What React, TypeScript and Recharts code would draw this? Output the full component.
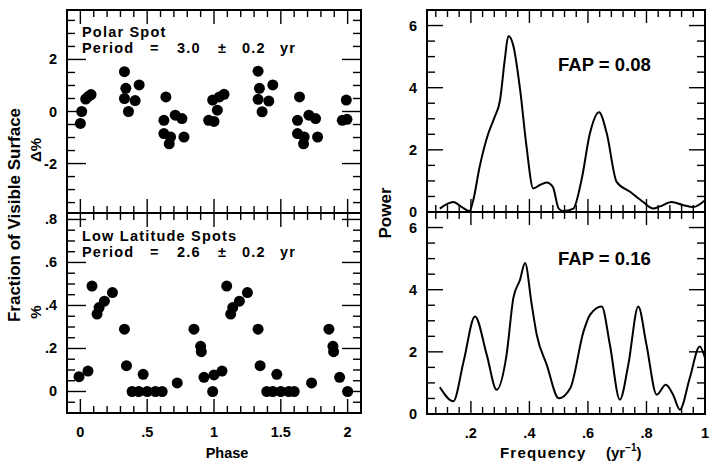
import React from 'react';
import { ScatterChart, Scatter, LineChart, Line, XAxis, YAxis, ReferenceArea } from 'recharts';

// ---------- data ----------
const polarPhase = [0.0, 0.01, 0.04, 0.06, 0.08, 0.33, 0.34, 0.44, 0.33, 0.41, 0.36, 0.64, 0.625, 0.71, 0.76, 0.625, 0.675, 0.665, 0.775,
  0.96, 1.0, 1.025, 0.99, 1.04, 1.075, 1.33, 1.34, 1.44, 1.33, 1.41, 1.36, 1.64, 1.625, 1.71, 1.76, 1.625, 1.675, 1.67, 1.775, 1.99, 1.96, 1.995];
const polarDelta = [-0.46, 0.0, 0.48, 0.58, 0.65, 1.53, 0.89, 1.02, 0.5, 0.42, 0.0, 0.56, -0.34, -0.14, -0.27, -0.85, -0.98, -1.24, -0.98,
  -0.34, -0.38, 0.05, 0.44, 0.56, 0.66, 1.55, 0.89, 1.02, 0.47, 0.4, -0.01, 0.56, -0.34, -0.14, -0.27, -0.85, -0.98, -1.24, -0.98, 0.44, -0.34, -0.3];

const lowPhase = [-0.01, 0.057, 0.087, 0.125, 0.14, 0.18, 0.24, 0.33, 0.345, 0.47, 0.387, 0.437, 0.5, 0.562, 0.612, 0.725, 0.85, 0.9, 0.905, 0.925,
  0.99, 1.0, 1.06, 1.095, 1.125, 1.14, 1.19, 1.25, 1.33, 1.345, 1.47, 1.395, 1.44, 1.5, 1.56, 1.6, 1.73, 1.86, 1.89, 1.895, 1.94, 2.0];
const lowFraction = [0.069, 0.095, 0.49, 0.36, 0.39, 0.42, 0.46, 0.29, 0.12, 0.08, 0.0, 0.0, 0.0, 0.0, 0.0, 0.04, 0.29, 0.21, 0.185, 0.066,
  0.0, 0.077, 0.095, 0.49, 0.36, 0.39, 0.42, 0.46, 0.29, 0.12, 0.08, 0.0, 0.0, 0.0, 0.0, 0.0, 0.04, 0.29, 0.21, 0.185, 0.066, 0.0];

const polarFreq = [0.094, 0.14, 0.169, 0.195, 0.208, 0.23, 0.26, 0.28, 0.3, 0.316, 0.328, 0.345, 0.368, 0.39, 0.413, 0.436, 0.459, 0.48, 0.5, 0.516,
  0.55, 0.578, 0.607, 0.638, 0.664, 0.698, 0.744, 0.789, 0.823, 0.846, 0.886, 0.926, 0.96, 1.0];
const polarPower = [0.11, 0.32, 0.16, 0.03, 0.38, 1.46, 2.54, 3.03, 3.62, 4.92, 5.66, 5.35, 3.95, 2.11, 0.76, 0.87, 0.95, 0.81, 0.11, 0.03,
  0.11, 1.03, 2.54, 3.21, 2.54, 0.97, 0.65, 0.32, 0.11, 0.18, 0.32, 0.22, 0.16, 0.38];

const lowFreq = [0.094, 0.14, 0.175, 0.214, 0.254, 0.288, 0.322, 0.345, 0.368, 0.385, 0.408, 0.425, 0.459, 0.5, 0.54, 0.585, 0.607, 0.647, 0.675,
  0.709, 0.738, 0.772, 0.8, 0.835, 0.866, 0.891, 0.914, 0.948, 0.982, 1.0];
const lowPower = [0.86, 0.41, 1.69, 3.14, 1.91, 0.78, 1.91, 3.73, 4.32, 4.86, 3.51, 2.55, 1.59, 0.51, 0.84, 2.66, 3.19, 3.46, 2.23,
  0.46, 1.59, 3.46, 2.23, 0.62, 0.94, 0.62, 0.14, 1.16, 2.17, 1.8];

// ---------- ticks ----------
const phaseMajor = [0, 0.5, 1, 1.5, 2];
const phaseLabels = ['0', '.5', '1', '1.5', '2'];
const deltaMajor = [-2, 0, 2];
const deltaLabels = ['-2', '0', '2'];
const fracMajor = [0, 0.2, 0.4, 0.6, 0.8];
const fracLabels = ['0', '.2', '.4', '.6', '.8'];
const freqMajor = [0.2, 0.4, 0.6, 0.8, 1.0];
const freqLabels = ['.2', '.4', '.6', '.8', '1'];
const powerMajor = [0, 2, 4, 6];
const powerLabels = ['0', '2', '4', '6'];

const steps = (a: number, b: number, s: number) => {
  const out: number[] = [];
  const n = Math.round((b - a) / s);
  for (let i = 0; i <= n; i++) out.push(+(a + i * s).toFixed(4));
  return out;
};
const phaseTicks = steps(0, 2, 0.1);
const deltaTicks = steps(-3.5, 3.5, 0.5);
const fracTicks = steps(-0.05, 0.8, 0.05);
const freqTicks = steps(0.08, 1.0, 0.04);
const powerTicks = steps(0, 6.5, 0.5);

const FONT = '"Liberation Sans", Arial, Helvetica, sans-serif';
const W = 712;
const H = 466;

const isMajor = (majors: number[], v: number) => majors.findIndex((m) => Math.abs(m - v) < 1e-6);

const makeXTick = (majors: number[], labels: string[], plotH: number, showLabels: boolean, majorLen: number, minorLen: number) =>
  (props: any) => {
    const { x, y, payload } = props;
    const idx = isMajor(majors, payload.value);
    const len = idx >= 0 ? majorLen : minorLen;
    return (
      <g>
        <line x1={x} y1={y} x2={x} y2={y - len} stroke="#000" strokeWidth={1.4} />
        <line x1={x} y1={y - plotH} x2={x} y2={y - plotH + len} stroke="#000" strokeWidth={1.4} />
        {showLabels && idx >= 0 ? (
          <text x={x} y={y + 24} textAnchor="middle" fontFamily={FONT} fontWeight="bold" fontSize={14.5} fill="#000">
            {labels[idx]}
          </text>
        ) : null}
      </g>
    );
  };

const makeYTick = (majors: number[], labels: string[], plotW: number, majorLen: number, minorLen: number, labelGap: number) =>
  (props: any) => {
    const { x, y, payload } = props;
    const idx = isMajor(majors, payload.value);
    const len = idx >= 0 ? majorLen : minorLen;
    return (
      <g>
        <line x1={x} y1={y} x2={x + len} y2={y} stroke="#000" strokeWidth={1.4} />
        <line x1={x + plotW} y1={y} x2={x + plotW - len} y2={y} stroke="#000" strokeWidth={1.4} />
        {idx >= 0 ? (
          <text x={x - labelGap} y={y + 5} textAnchor="end" fontFamily={FONT} fontWeight="bold" fontSize={14.5} fill="#000">
            {labels[idx]}
          </text>
        ) : null}
      </g>
    );
  };

const dot = (props: any) => <circle cx={props.cx} cy={props.cy} r={5.5} fill="#000" />;

const polarData = polarPhase.map((p, i) => ({ x: p, y: polarDelta[i] }));
const lowData = lowPhase.map((p, i) => ({ x: p, y: lowFraction[i] }));
const polarPow = polarFreq.map((f, i) => ({ f, p: polarPower[i] }));
const lowPow = lowFreq.map((f, i) => ({ f, p: lowPower[i] }));

const abs: React.CSSProperties = { position: 'absolute', left: 0, top: 0 };

// panel geometry
const L1 = 67, R1 = 361, L2 = 427, R2 = 705;

function ScatterPanel(props: { data: any[]; top: number; bottom: number; yDomain: [number, number]; yTicks: number[]; yMajor: number[]; yLabels: string[]; showX: boolean }) {
  const { data, top, bottom, yDomain, yTicks, yMajor, yLabels, showX } = props;
  const plotH = bottom - top;
  return (
    <div style={abs}>
      <ScatterChart width={W} height={H} margin={{ top, left: L1 - 40, right: W - R1, bottom: H - bottom - 30 }}>
        <XAxis type="number" dataKey="x" domain={[-0.1, 2.1]} ticks={phaseTicks} interval={0} allowDataOverflow
          height={30} axisLine={false} tickLine={false} tickSize={0} tickMargin={0}
          tick={makeXTick(phaseMajor, phaseLabels, plotH, showX, 14, 7)} />
        <YAxis type="number" dataKey="y" domain={yDomain} ticks={yTicks} interval={0} allowDataOverflow
          width={40} axisLine={false} tickLine={false} tickSize={0} tickMargin={0}
          tick={makeYTick(yMajor, yLabels, R1 - L1, 19, 8, 10)} />
        <ReferenceArea x1={-0.1} x2={2.1} y1={yDomain[0]} y2={yDomain[1]} fill="none" stroke="#000" strokeWidth={2} ifOverflow="visible" />
        <Scatter data={data} shape={dot} isAnimationActive={false} />
      </ScatterChart>
    </div>
  );
}

function PowerPanel(props: { data: any[]; top: number; bottom: number; showX: boolean }) {
  const { data, top, bottom, showX } = props;
  const plotH = bottom - top;
  return (
    <div style={abs}>
      <LineChart width={W} height={H} data={data} margin={{ top, left: L2 - 40, right: W - R2, bottom: H - bottom - 30 }}>
        <XAxis type="number" dataKey="f" domain={[0.05, 1.0]} ticks={freqTicks} interval={0} allowDataOverflow
          height={30} axisLine={false} tickLine={false} tickSize={0} tickMargin={0}
          tick={makeXTick(freqMajor, freqLabels, plotH, showX, 13, 7)} />
        <YAxis type="number" domain={[0, 6.5]} ticks={powerTicks} interval={0} allowDataOverflow
          width={40} axisLine={false} tickLine={false} tickSize={0} tickMargin={0}
          tick={makeYTick(powerMajor, powerLabels, R2 - L2, 16, 8, 10)} />
        <ReferenceArea x1={0.05} x2={1.0} y1={0} y2={6.5} fill="none" stroke="#000" strokeWidth={2} ifOverflow="visible" />
        <Line dataKey="p" type="monotone" stroke="#000" strokeWidth={2} dot={false} isAnimationActive={false} />
      </LineChart>
    </div>
  );
}

const txt = { fontFamily: FONT, fontWeight: 'bold' as const, fill: '#000' };

export default function App() {
  return (
    <div style={{ position: 'absolute', left: 0, top: 0, width: W, height: H, background: '#fff', overflow: 'hidden' }}>
      <ScatterPanel data={polarData} top={10} bottom={213} yDomain={[-3.9, 3.9]} yTicks={deltaTicks} yMajor={deltaMajor} yLabels={deltaLabels} showX={false} />
      <ScatterPanel data={lowData} top={213} bottom={413} yDomain={[-0.1, 0.83]} yTicks={fracTicks} yMajor={fracMajor} yLabels={fracLabels} showX={true} />
      <PowerPanel data={polarPow} top={10} bottom={212} showX={false} />
      <PowerPanel data={lowPow} top={212} bottom={414} showX={true} />
      <svg width={W} height={H} style={{ ...abs, pointerEvents: 'none' }}>
        <text x={82} y={37} fontSize={14.5} letterSpacing={1.2} {...txt}>Polar Spot</text>
        <text y={53} fontSize={14.5} letterSpacing={1.2} {...txt}>
          <tspan x={82}>Period</tspan><tspan x={150}>=</tspan><tspan x={177}>3.0</tspan><tspan x={218}>±</tspan><tspan x={242}>0.2</tspan><tspan x={280}>yr</tspan>
        </text>
        <text x={82} y={241} fontSize={14.5} letterSpacing={1.2} {...txt}>Low Latitude Spots</text>
        <text y={257} fontSize={14.5} letterSpacing={1.2} {...txt}>
          <tspan x={82}>Period</tspan><tspan x={150}>=</tspan><tspan x={177}>2.6</tspan><tspan x={218}>±</tspan><tspan x={242}>0.2</tspan><tspan x={280}>yr</tspan>
        </text>
        <text x={558} y={71} fontSize={18.5} {...txt}>FAP = 0.08</text>
        <text x={558} y={265} fontSize={18.5} {...txt}>FAP = 0.16</text>
        <text transform="translate(20,215) rotate(-90)" textAnchor="middle" fontSize={17} {...txt}>Fraction of Visible Surface</text>
        <text transform="translate(41,150) rotate(-90)" textAnchor="middle" fontSize={15} {...txt}>Δ%</text>
        <text transform="translate(41,312) rotate(-90)" textAnchor="middle" fontSize={15} {...txt}>%</text>
        <text transform="translate(391,213) rotate(-90)" textAnchor="middle" fontSize={17} {...txt}>Power</text>
        <text x={227} y={458} textAnchor="middle" fontSize={14.5} {...txt}>Phase</text>
        <text y={458} fontSize={15} {...txt}>
          <tspan x={500} letterSpacing={1.2}>Frequency</tspan>
          <tspan x={606}>(yr</tspan>
          <tspan dy={-7} fontSize={10}>−1</tspan>
          <tspan dy={7}>)</tspan>
        </text>
      </svg>
    </div>
  );
}
